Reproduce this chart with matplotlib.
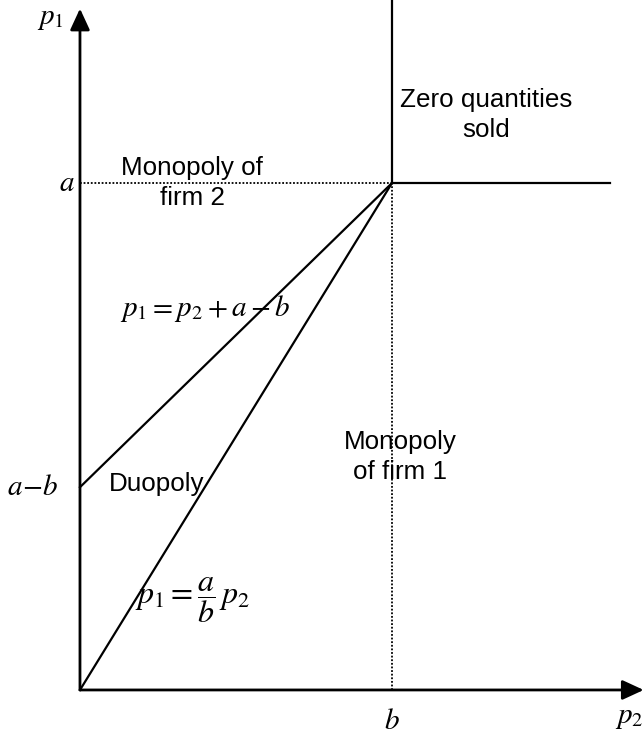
import matplotlib.pyplot as plt

plt.rcParams['font.family'] = 'Liberation Sans'
plt.rcParams['mathtext.fontset'] = 'stix'

# model parameters (p1 on vertical axis, p2 on horizontal axis)
a = 5.0
b = 3.0
x_max = 5.42      # end of p2 axis
y_max = 6.72      # end of p1 axis
x_ext = 5.1       # end of the p1 = a boundary
y_ext = 6.82      # end of the p2 = b boundary

# region labels: (text, x, y)
regions = [
    ('Monopoly of\nfirm 2', 1.08, a),
    ('Zero quantities\nsold', 3.91, 5.67),
    ('Monopoly\nof firm 1', 3.08, 2.30),
    ('Duopoly', 0.74, 2.03),
]

fig = plt.figure(figsize=(6.44, 7.36), dpi=100)
ax = fig.add_axes([0, 0, 1, 1])
ax.set_xlim(-0.769, 5.423)
ax.set_ylim(-0.454, 6.805)
ax.axis('off')

# axes with arrows
ax.annotate('', xy=(x_max, 0), xytext=(0, 0),
            arrowprops=dict(arrowstyle='-|>,head_length=1.3,head_width=0.6',
                            color='black', lw=2, shrinkA=0, shrinkB=0))
ax.annotate('', xy=(0, y_max), xytext=(0, 0),
            arrowprops=dict(arrowstyle='-|>,head_length=1.3,head_width=0.6',
                            color='black', lw=2, shrinkA=0, shrinkB=0))

# boundaries
ax.plot([0, b], [a - b, a], color='black', lw=1.6)
ax.plot([0, b], [0, a], color='black', lw=1.6)
ax.plot([b, b], [a, y_ext], color='black', lw=1.6)
ax.plot([b, x_ext], [a, a], color='black', lw=1.6)
ax.plot([0, b], [a, a], color='black', lw=1.3, linestyle=(0, (1, 1)))
ax.plot([b, b], [0, a], color='black', lw=1.3, linestyle=(0, (1, 1)))

# region labels
for txt, x, y in regions:
    ax.text(x, y, txt, fontsize=18.7, ha='center', va='center', linespacing=1.3)

# axis labels
mfs = 21
ax.text(-0.28, 6.63, '$p_1$', fontsize=mfs, ha='center', va='center')
ax.text(-0.13, a, '$a$', fontsize=mfs, ha='center', va='center')
ax.text(-0.45, a - b, '$a\\!-\\!b$', fontsize=mfs, ha='center', va='center')
ax.text(b, -0.31, '$b$', fontsize=mfs, ha='center', va='center')
ax.text(5.28, -0.27, '$p_2$', fontsize=mfs, ha='center', va='center')

# equations
ax.text(1.20, 3.76, '$p_1 = p_2 + a - b$', fontsize=mfs, ha='center', va='center')
ax.text(1.08, 0.89, r'$p_1 = \dfrac{a}{b}\,p_2$', fontsize=23, ha='center', va='center')

fig.savefig('out.png', dpi=100)
